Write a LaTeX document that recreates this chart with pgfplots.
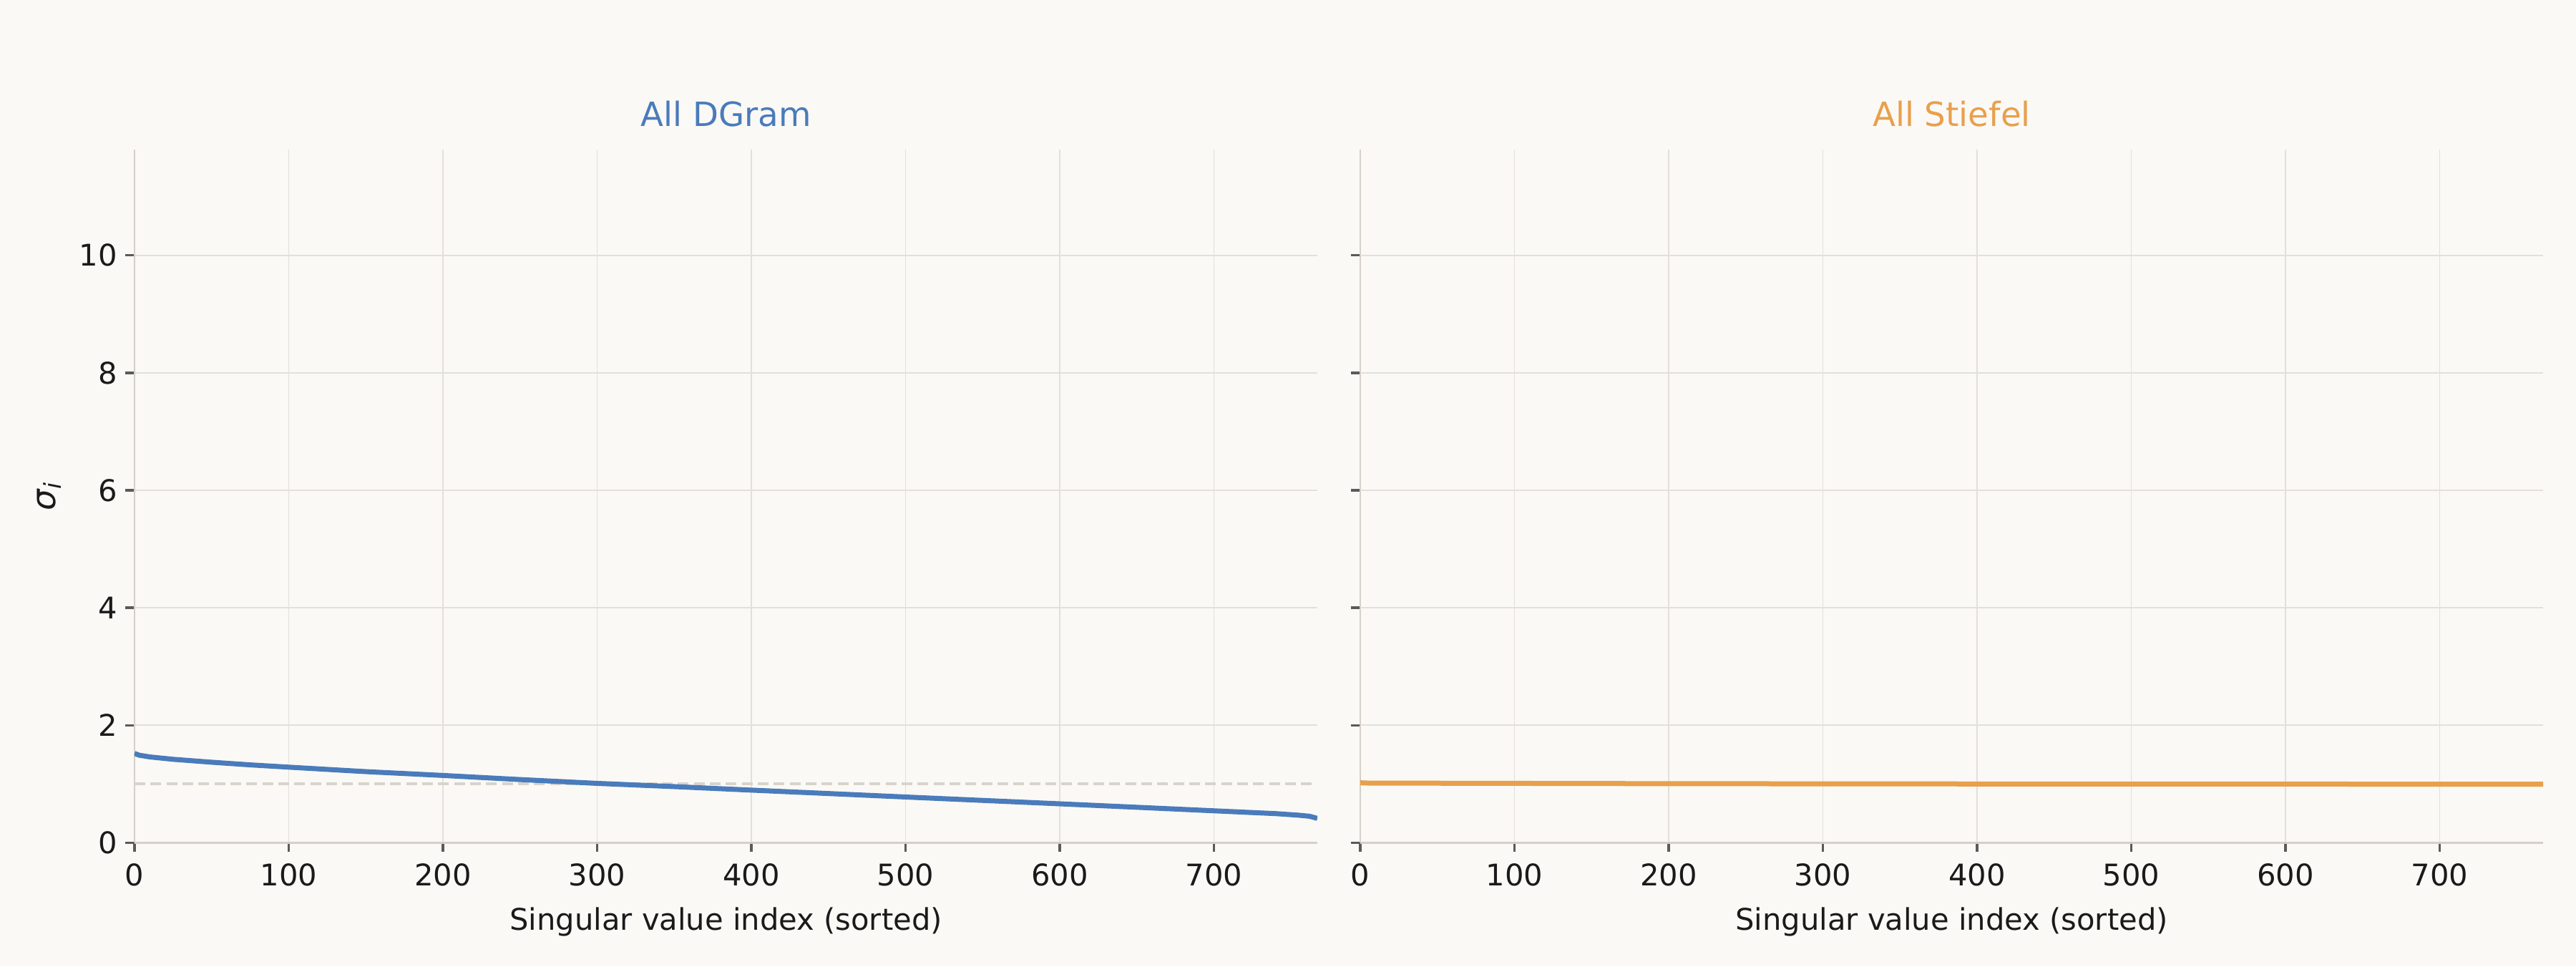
\documentclass[border=0pt]{standalone}
\usepackage{pgfplots}
\pgfplotsset{compat=1.18}
\usepackage{fontspec}
\setmainfont{DejaVu Sans}
\definecolor{bg}{HTML}{FAF9F6}
\definecolor{blueline}{HTML}{4A7BBB}
\definecolor{orangeline}{HTML}{E8A04C}
\definecolor{spine}{HTML}{D5D0C8}
\definecolor{gridc}{HTML}{E3E0DA}
\definecolor{tickc}{HTML}{5A5A5A}
\definecolor{dashc}{HTML}{D8D3CB}
\definecolor{txt}{HTML}{1A1A1A}
\pgfplotsset{
  panel/.style={
    scale only axis,
    width=495.9pt, height=290.5pt,
    anchor=south west,
    xmin=0, xmax=767, ymin=0, ymax=11.8,
    xtick={0,100,...,700}, ytick={0,2,...,10},
    axis x line*=bottom, axis y line*=left,
    axis line style={color=spine, line width=0.8pt, -},
    tick align=outside, major tick length=3.8pt,
    tick style={color=tickc, line width=1pt},
    grid=major, major grid style={color=gridc, line width=0.5pt},
    /pgf/number format/assume math mode=true,
    ticklabel style={font=\fontsize{12.5}{14}\selectfont, text=txt},
    xticklabel style={yshift=-1.4pt},
    xlabel={Singular value index (sorted)},
    xlabel style={font=\fontsize{12.5}{15}\selectfont, text=txt, at={(axis description cs:0.5,-0.114)}, anchor=center},
    title style={font=\fontsize{14}{16}\selectfont, at={(axis description cs:0.5,1)}, anchor=center, yshift=9pt},
    clip=true,
  }
}
\begin{document}
\begin{tikzpicture}
\path[use as bounding box, fill=bg] (0,0) rectangle (1080pt,405pt);
\begin{axis}[panel, at={(56.4pt,51.8pt)},
  title={All DGram}, title style={text=blueline},
  ylabel={\textit{σ\textsubscript{i}}},
  ylabel style={font=\fontsize{14}{16}\selectfont, text=txt, at={(axis description cs:-0.072,0.5)}, anchor=center},
]
\addplot[dashc, line width=1.2pt, dash pattern=on 4.5pt off 2.2pt] coordinates {(0,1) (767,1)};
\addplot[blueline, line width=2.1pt] coordinates {
(0,1.52) (3,1.49) (10,1.46) (25,1.42) (50,1.37) (75,1.325) (100,1.286)
(150,1.21) (200,1.145) (250,1.075) (300,1.01) (350,0.955) (400,0.895)
(450,0.837) (500,0.778) (550,0.72) (600,0.662) (650,0.603) (700,0.543)
(740,0.495) (755,0.468) (762,0.45) (767,0.414)};
\end{axis}
\begin{axis}[panel, at={(570.3pt,51.8pt)},
  title={All Stiefel}, title style={text=orangeline},
  yticklabels={},
]
\addplot[dashc, line width=1.2pt, dash pattern=on 4.5pt off 2.2pt] coordinates {(0,1) (767,1)};
\addplot[orangeline, line width=2.1pt] coordinates {
(0,1.02) (5,1.015) (100,1.01) (200,1.005) (400,1.0) (600,0.998) (767,0.995)};
\end{axis}
\end{tikzpicture}
\end{document}
